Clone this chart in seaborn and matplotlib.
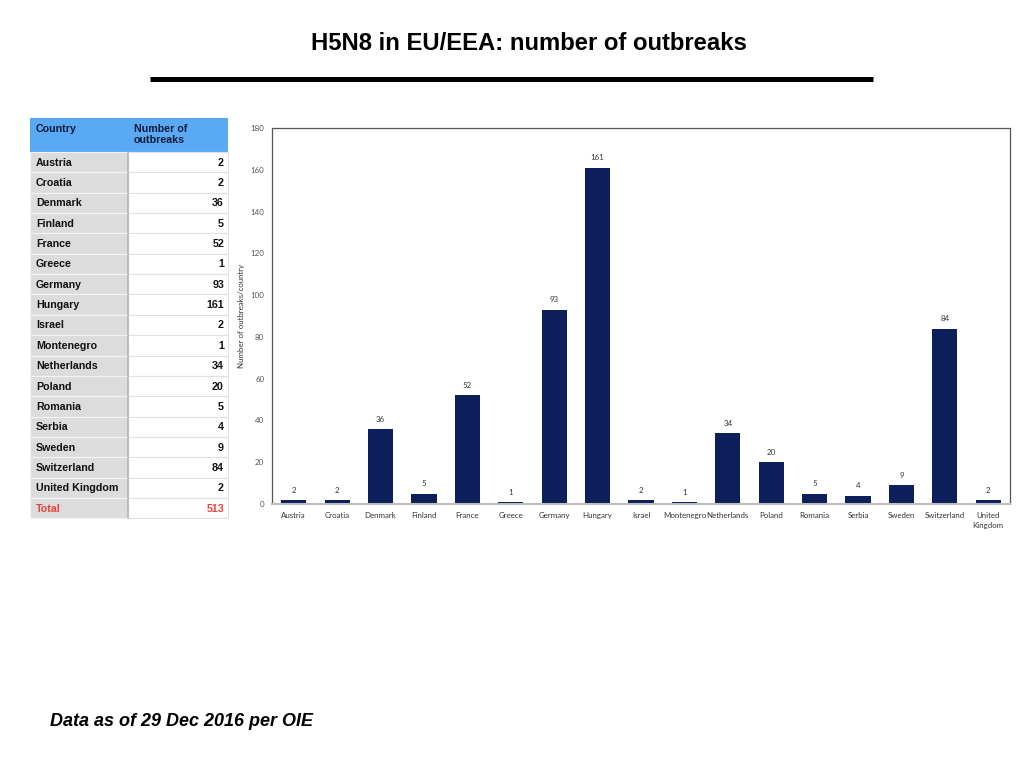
import matplotlib
matplotlib.use("Agg")
import matplotlib.pyplot as plt
import seaborn as sns
import pandas as pd
from matplotlib.patches import Rectangle

countries = ["Austria", "Croatia", "Denmark", "Finland", "France", "Greece", "Germany",
             "Hungary", "Israel", "Montenegro", "Netherlands", "Poland", "Romania",
             "Serbia", "Sweden", "Switzerland", "United Kingdom"]
outbreaks = [2, 2, 36, 5, 52, 1, 93, 161, 2, 1, 34, 20, 5, 4, 9, 84, 2]
tick_labels = ["Austria", "Croatia", "Denmark", "Finland", "France", "Greece", "Germany",
               "Hungary", "Israel", "Montenegro", "Netherlands", "Poland", "Romania",
               "Serbia", "Sweden", "Switzerland", "United\nKingdom"]
total_label = "Total"
total_value = 513
y_ticks = [0, 20, 40, 60, 80, 100, 120, 140, 160, 180]

sns.set_theme(style="white")
plt.rcParams['font.family'] = ['Liberation Sans', 'DejaVu Sans']

W, H = 1024, 768
fig = plt.figure(figsize=(W / 100, H / 100), dpi=100)

# Background overlay axes in pixel coordinates
bg = fig.add_axes([0, 0, 1, 1])
bg.set_xlim(0, W)
bg.set_ylim(H, 0)
bg.axis("off")

bg.text(529, 44, "H5N8 in EU/EEA: number of outbreaks", ha="center", va="center",
        fontsize=17.2, fontweight="bold", color="black")
bg.plot([150, 873], [78.5, 78.5], color="black", lw=3.6, solid_capstyle="butt")
bg.text(50, 721, "Data as of 29 Dec 2016 per OIE", ha="left", va="center",
        fontsize=13, fontweight="bold", fontstyle="italic", color="black")

# Table
x0, xm, x1 = 30, 128, 228
hy0, hy1 = 118, 152
rh = 20.35
bg.add_patch(Rectangle((x0, hy0), x1 - x0, hy1 - hy0, facecolor="#5aa9f5", edgecolor="none"))
bg.text(36, 123.5, "Country", ha="left", va="top", fontsize=7.7, fontweight="bold", color="#0a1a3a")
bg.text(134, 123.5, "Number of\noutbreaks", ha="left", va="top", fontsize=7.7, fontweight="bold",
        color="#0a1a3a", linespacing=1.15)
rows = list(zip(countries, outbreaks)) + [(total_label, total_value)]
for i, (c, v) in enumerate(rows):
    ry = hy1 + i * rh
    bg.add_patch(Rectangle((x0, ry), xm - x0, rh, facecolor="#dcdcdc", edgecolor="#f4f4f4", lw=0.8))
    bg.add_patch(Rectangle((xm, ry), x1 - xm, rh, facecolor="white", edgecolor="#e2e2e2", lw=0.8))
    col = "#e8453c" if c == total_label else "#111111"
    bg.text(36, ry + rh / 2 + 0.5, c, ha="left", va="center", fontsize=7.7, fontweight="bold", color=col)
    bg.text(224, ry + rh / 2 + 0.5, str(v), ha="right", va="center", fontsize=7.7, fontweight="bold", color=col)
bg.plot([xm, xm], [hy1, hy1 + len(rows) * rh], color="#b5b5b5", lw=1.2)

# Bar chart
ax = fig.add_axes([272 / W, 1 - 504 / H, (1010 - 272) / W, (504 - 128) / H])
df = pd.DataFrame({"country": countries, "outbreaks": outbreaks})
sns.barplot(data=df, x="country", y="outbreaks", color="#0c1f5a", saturation=1,
            width=0.58, ax=ax, edgecolor="none")
ax.set_ylim(0, 180)
ax.set_yticks(y_ticks)
ax.set_xlim(-0.5, len(countries) - 0.5)
ax.set_xticks(range(len(countries)))
lab_font = ['Lato', 'DejaVu Sans']
ax.set_xticklabels(tick_labels, fontsize=5.7, color="#333333", family=lab_font, linespacing=1.6)
ax.set_yticklabels([str(t) for t in y_ticks], fontsize=5.7, color="#555555", family=lab_font)
ax.tick_params(axis="y", length=0, pad=5.5)
ax.tick_params(axis="x", length=0, pad=5.5)
ax.set_xlabel("")
ax.set_ylabel("Number of outbreaks/country", fontsize=5.7, color="#333333", family=lab_font, labelpad=4)
for s in ["left", "top", "right"]:
    ax.spines[s].set_color("#555555")
    ax.spines[s].set_linewidth(0.9)
ax.spines["bottom"].set_color("#bdbdbd")
ax.spines["bottom"].set_linewidth(1.5)
for cont in ax.containers:
    ax.bar_label(cont, labels=[str(v) for v in outbreaks], padding=4.5, fontsize=5.7,
                 color="#333333", family=lab_font)

fig.savefig("out.png", dpi=100)
